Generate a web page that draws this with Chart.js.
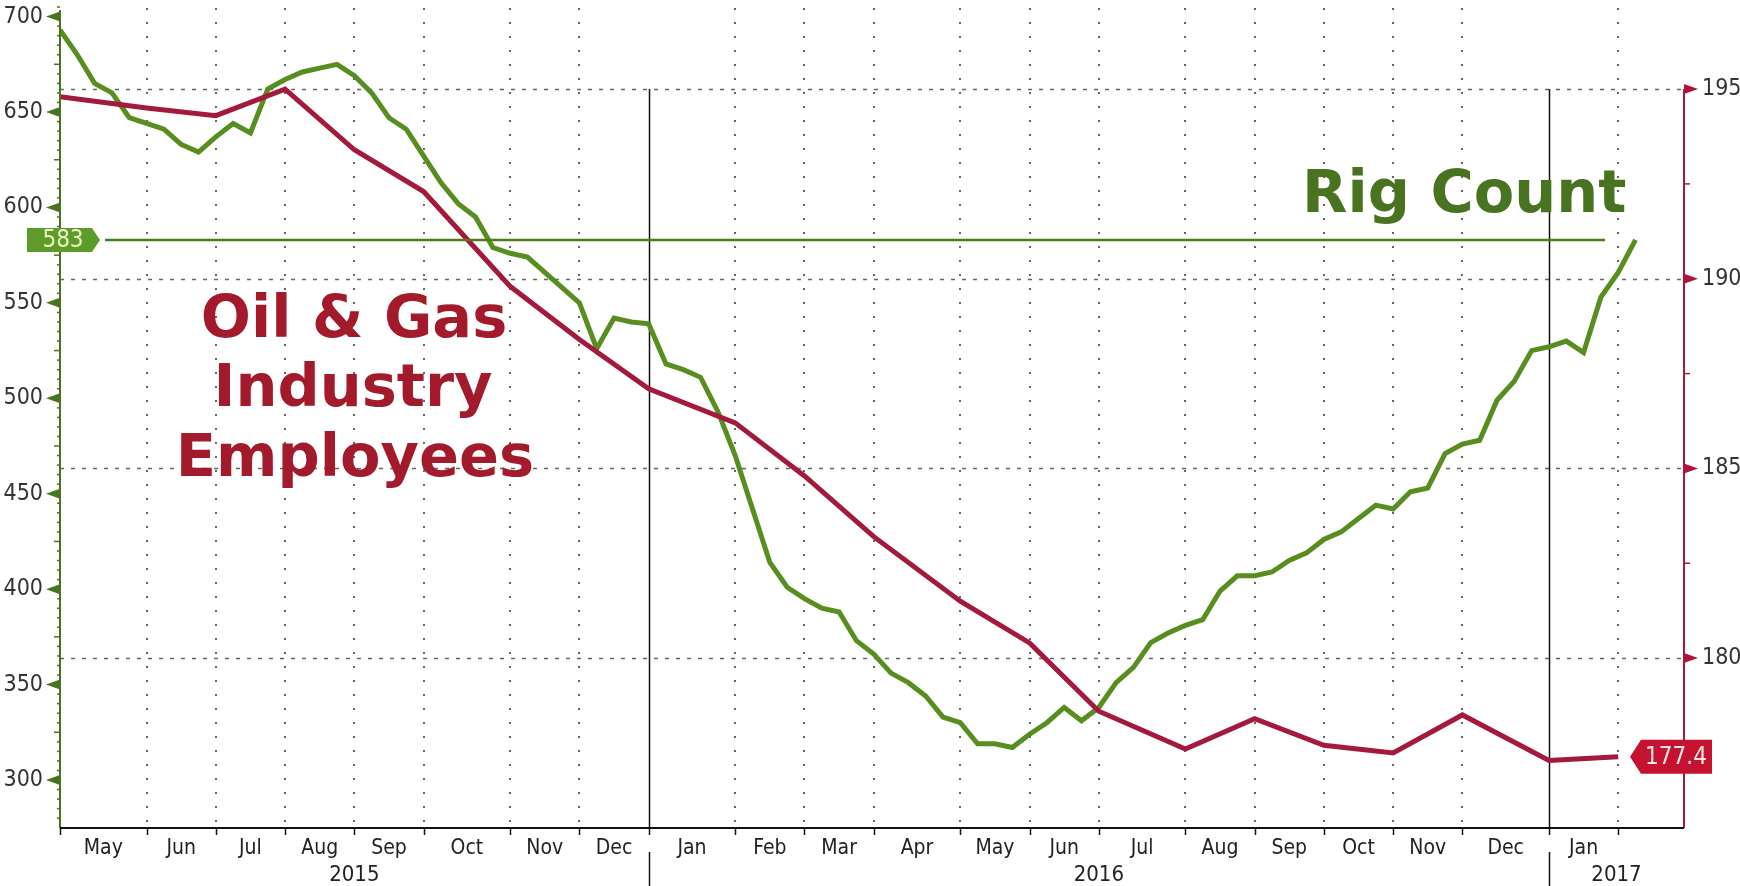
<!DOCTYPE html>
<html lang="en">
<head>
  <meta charset="UTF-8">
  <title>Rig Count vs Oil &amp; Gas Industry Employees</title>
  <script src="https://cdn.jsdelivr.net/npm/chart.js"></script>
  <style>
    html, body { margin: 0; padding: 0; background: #fff; }
    #wrap { width: 1740px; height: 886px; }
  </style>
</head>
<body>
  <div id="wrap"><canvas id="rigChart" width="1740" height="886"></canvas></div>

  <script>
    // weekly rig count (left axis), week 0 = first week of May 2015
    const rigCount = [
      693, 680, 665, 660, 647, 644, 641, 633, 629, 637,
      644, 639, 662, 667, 671, 673, 675, 669, 660, 647,
      641, 627, 613, 602, 595, 579, 576, 574, 566, 558,
      550, 526, 542, 540, 539, 518, 515, 511, 493, 470,
      442, 414, 401, 395, 390, 388, 373, 366, 356, 351,
      344, 333, 330, 319, 319, 317, 324, 330, 338, 331,
      338, 351, 359, 372, 377, 381, 384, 399, 407, 407,
      409, 415, 419, 426, 430, 437, 444, 442, 451, 453,
      471, 476, 478, 499, 509, 525, 527, 530, 524, 553,
      566, 583
    ];

    // oil & gas industry employees, thousands (right axis), one per month start
    const employees = [
      194.8, 194.5, 194.3, 195.0, 193.4, 192.3, 189.8, 188.4,
      187.1, 186.2, 184.8, 183.2, 181.5, 180.4, 178.6, 177.6,
      178.4, 177.7, 177.5, 178.5, 177.3, 177.4
    ];

    // week index at which each month starts (May 2015 .. Feb 2017)
    const monthStartWeek = [0, 5, 9, 13, 17, 21, 26, 30, 34, 39, 43, 47, 52, 56, 60, 65, 69, 73, 77, 81, 86, 90];
    const monthLabels = ['May', 'Jun', 'Jul', 'Aug', 'Sep', 'Oct', 'Nov', 'Dec',
                         'Jan', 'Feb', 'Mar', 'Apr', 'May', 'Jun', 'Jul', 'Aug', 'Sep', 'Oct', 'Nov', 'Dec',
                         'Jan'];
    const yearLabels = ['2015', '2016', '2017'];
    const yearStartWeek = [0, 34, 86];

    const rigTicks = [300, 350, 400, 450, 500, 550, 600, 650, 700];
    const empTicks = [180, 185, 190, 195];

    const axisFont = '"DejaVu Sans Condensed", "Liberation Sans Narrow", "DejaVu Sans", sans-serif';
    const bigFont = '"DejaVu Sans", Verdana, sans-serif';
    const green = '#588d1f';
    const darkGreen = '#4a7321';
    const crimson = '#a31a3d';

    function seg(ctx, x1, y1, x2, y2) {
      ctx.beginPath();
      ctx.moveTo(x1, y1);
      ctx.lineTo(x2, y2);
      ctx.stroke();
    }

    // keep the plot area where the reference has it (no label padding)
    function noPad(s) {
      s.paddingTop = 0;
      s.paddingBottom = 0;
      s.paddingLeft = 0;
      s.paddingRight = 0;
    }

    const decor = {
      id: 'decor',
      beforeDatasetsDraw(chart) {
        const { ctx, chartArea: a, scales: { x, yR } } = chart;
        ctx.save();

        // horizontal dashed grid (right axis ticks)
        ctx.strokeStyle = '#666';
        ctx.lineWidth = 1.5;
        ctx.setLineDash([4, 7]);
        empTicks.forEach(v => {
          const y = Math.round(yR.getPixelForValue(v)) + 0.5;
          seg(ctx, a.left, y, a.right, y);
        });

        // vertical dotted grid at month starts
        ctx.setLineDash([2, 12]);
        ctx.lineWidth = 2;
        monthStartWeek.forEach(w => {
          if (yearStartWeek.includes(w)) return;
          const px = Math.round(x.getPixelForValue(w));
          seg(ctx, px, a.top + 2, px, a.bottom);
        });
        ctx.setLineDash([]);

        // solid year dividers
        ctx.strokeStyle = '#111';
        ctx.lineWidth = 1.5;
        const topLine = yR.getPixelForValue(empTicks[empTicks.length - 1]);
        yearStartWeek.slice(1).forEach(w => {
          const px = Math.round(x.getPixelForValue(w)) + 0.5;
          seg(ctx, px, topLine, px, a.bottom);
          seg(ctx, px, a.bottom + 24, px, chart.height);
        });
        ctx.restore();
      },

      afterDatasetsDraw(chart) {
        const { ctx, chartArea: a, scales: { x, yL, yR } } = chart;
        ctx.save();

        // left axis (rig count)
        ctx.strokeStyle = darkGreen;
        ctx.fillStyle = darkGreen;
        ctx.lineWidth = 2;
        seg(ctx, a.left, a.top + 4, a.left, a.bottom);
        ctx.lineWidth = 1.5;
        for (let v = 280; v <= 705; v += 5) {
          const y = yL.getPixelForValue(v);
          if (v % 50 === 0) continue;
          const len = v % 25 === 0 ? 6 : 3;
          seg(ctx, a.left - len, y, a.left, y);
        }
        rigTicks.forEach(v => {
          const y = yL.getPixelForValue(v);
          ctx.beginPath();
          ctx.moveTo(a.left - 14, y);
          ctx.lineTo(a.left, y - 5);
          ctx.lineTo(a.left, y + 5);
          ctx.closePath();
          ctx.fill();
        });

        // right axis (employees)
        const topLine = yR.getPixelForValue(empTicks[empTicks.length - 1]);
        ctx.strokeStyle = crimson;
        ctx.fillStyle = '#b0123a';
        ctx.lineWidth = 2;
        seg(ctx, a.right, topLine, a.right, a.bottom);
        ctx.lineWidth = 1.5;
        for (let v = 177.5; v < 195; v += 5) {
          const y = yR.getPixelForValue(v);
          seg(ctx, a.right, y, a.right + 6, y);
        }
        empTicks.forEach(v => {
          const y = yR.getPixelForValue(v);
          ctx.beginPath();
          ctx.moveTo(a.right + 14, y);
          ctx.lineTo(a.right, y - 5);
          ctx.lineTo(a.right, y + 5);
          ctx.closePath();
          ctx.fill();
        });

        // bottom axis with month ticks
        ctx.strokeStyle = '#111';
        ctx.lineWidth = 2;
        seg(ctx, a.left, a.bottom, a.right, a.bottom);
        ctx.lineWidth = 1.5;
        monthStartWeek.forEach(w => {
          const px = Math.round(x.getPixelForValue(w)) + 0.5;
          seg(ctx, px, a.bottom, px, a.bottom + 7);
        });

        // year labels
        ctx.fillStyle = '#222';
        ctx.font = '22px ' + axisFont;
        ctx.textAlign = 'center';
        ctx.textBaseline = 'alphabetic';
        yearLabels.forEach((lbl, i) => {
          const x1 = x.getPixelForValue(yearStartWeek[i]);
          const x2 = i + 1 < yearStartWeek.length ? x.getPixelForValue(yearStartWeek[i + 1]) : a.right;
          ctx.fillText(lbl, (x1 + x2) / 2, 881);
        });

        // last rig count line and tag
        const lastRig = rigCount[rigCount.length - 1];
        const yRig = yL.getPixelForValue(lastRig);
        ctx.strokeStyle = '#4f7a1e';
        ctx.lineWidth = 2.5;
        seg(ctx, 105, yRig, a.right - 79, yRig);
        ctx.fillStyle = '#5f9b2a';
        ctx.beginPath();
        ctx.moveTo(27, yRig - 12);
        ctx.lineTo(92, yRig - 12);
        ctx.lineTo(100, yRig);
        ctx.lineTo(92, yRig + 12);
        ctx.lineTo(27, yRig + 12);
        ctx.closePath();
        ctx.fill();
        ctx.fillStyle = '#e6f5c0';
        ctx.font = '24px ' + axisFont;
        ctx.textBaseline = 'middle';
        ctx.fillText(String(lastRig), 63, yRig + 1);

        // last employees tag
        const lastEmp = employees[employees.length - 1];
        const yEmp = yR.getPixelForValue(lastEmp);
        ctx.fillStyle = '#c41230';
        ctx.beginPath();
        ctx.moveTo(1630, yEmp);
        ctx.lineTo(1641, yEmp - 17);
        ctx.lineTo(1712, yEmp - 17);
        ctx.lineTo(1712, yEmp + 17);
        ctx.lineTo(1641, yEmp + 17);
        ctx.closePath();
        ctx.fill();
        ctx.fillStyle = '#f8e4e6';
        ctx.font = '24px ' + axisFont;
        ctx.fillText(lastEmp.toFixed(1), 1676, yEmp + 1);

        // series titles
        ctx.font = 'bold 59px ' + bigFont;
        ctx.textBaseline = 'alphabetic';
        ctx.fillStyle = darkGreen;
        ctx.textAlign = 'left';
        ctx.fillText('Rig Count', 1302, 212);
        ctx.fillStyle = '#a31a2d';
        ctx.textAlign = 'center';
        ctx.fillText('Oil & Gas', 354, 337);
        ctx.fillText('Industry', 353, 406);
        ctx.fillText('Employees', 355, 476);

        ctx.restore();
      }
    };

    new Chart(document.getElementById('rigChart'), {
      type: 'line',
      data: {
        datasets: [
          {
            label: 'Oil & Gas Industry Employees',
            data: employees.map((v, i) => ({ x: monthStartWeek[i], y: v })),
            yAxisID: 'yR',
            borderColor: crimson,
            borderWidth: 5,
            pointRadius: 0,
            tension: 0
          },
          {
            label: 'Rig Count',
            data: rigCount.map((v, i) => ({ x: i, y: v })),
            yAxisID: 'yL',
            borderColor: green,
            borderWidth: 5,
            pointRadius: 0,
            tension: 0
          }
        ]
      },
      options: {
        responsive: false,
        animation: false,
        layout: { padding: { top: 6, left: 0, right: 0, bottom: 0 } },
        plugins: {
          legend: { display: false },
          tooltip: { enabled: false }
        },
        scales: {
          x: {
            type: 'linear',
            min: 0,
            max: 93.8,
            afterFit: s => { s.height = 58; noPad(s); },
            afterBuildTicks: s => {
              s.ticks = monthLabels.map((m, i) => ({ value: (monthStartWeek[i] + monthStartWeek[i + 1]) / 2 }));
            },
            ticks: {
              autoSkip: false,
              maxRotation: 0,
              minRotation: 0,
              padding: 8,
              color: '#222',
              font: { family: axisFont, size: 21 },
              callback: (v, i) => monthLabels[i]
            },
            grid: { display: false, drawTicks: false },
            border: { display: false }
          },
          yL: {
            type: 'linear',
            position: 'left',
            min: 274.85,
            max: 705.55,
            afterFit: s => { s.width = 60; noPad(s); },
            afterBuildTicks: s => { s.ticks = rigTicks.map(v => ({ value: v })); },
            ticks: { padding: 17, color: '#333', font: { family: axisFont, size: 23 } },
            grid: { display: false, drawTicks: false },
            border: { display: false }
          },
          yR: {
            type: 'linear',
            position: 'right',
            min: 175.52,
            max: 197.19,
            afterFit: s => { s.width = 56; noPad(s); },
            afterBuildTicks: s => { s.ticks = empTicks.map(v => ({ value: v })); },
            ticks: { padding: 18, color: '#333', font: { family: axisFont, size: 23 } },
            grid: { display: false, drawTicks: false },
            border: { display: false }
          }
        }
      },
      plugins: [decor]
    });
  </script>
</body>
</html>
